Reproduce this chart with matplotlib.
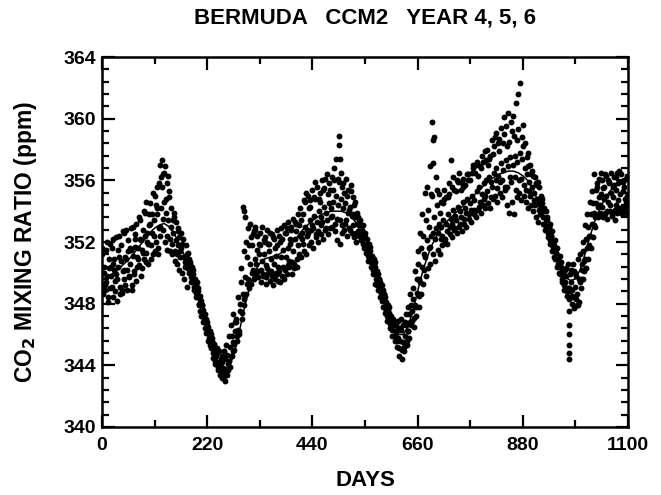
import numpy as np
import matplotlib
matplotlib.use("Agg")
import matplotlib.pyplot as plt
from matplotlib.ticker import MultipleLocator, AutoMinorLocator

plt.rcParams["font.family"] = ["Liberation Sans", "DejaVu Sans"]
plt.rcParams["font.weight"] = "bold"

# smooth fit, every 10 days from day 0 to 1100
fit_days = np.arange(0, 1101, 10)
fit_ppm = [
    349.6, 349.7, 349.9, 350.1, 350.4, 350.7, 351.0, 351.4, 351.8, 352.2,
    352.6, 352.9, 353.1, 353.2, 353.0, 352.6, 352.0, 351.3, 350.5, 349.5,
    348.4, 347.3, 346.2, 345.2, 344.4, 343.9, 343.8, 344.2, 345.2, 346.6,
    348.0, 349.2, 350.1, 350.6, 350.9, 351.0, 351.1, 351.2, 351.4, 351.7,
    352.0, 352.4, 352.8, 353.1, 353.4, 353.6, 353.8, 353.9, 354.0, 354.0,
    354.0, 353.9, 353.7, 353.3, 352.7, 351.9, 351.0, 350.0, 349.0, 348.0,
    347.1, 346.4, 346.0, 346.0, 346.5, 347.5, 348.8, 350.0, 351.0, 351.8,
    352.4, 352.9, 353.3, 353.6, 353.9, 354.2, 354.5, 354.8, 355.1, 355.4,
    355.7, 356.0, 356.2, 356.4, 356.5, 356.6, 356.6, 356.5, 356.3, 356.0,
    355.5, 354.8, 354.0, 353.0, 352.0, 351.0, 350.2, 349.7, 349.5, 349.6,
    350.2, 351.2, 352.3, 353.3, 354.1, 354.7, 355.2, 355.6, 355.9, 356.1,
    356.2,
]

# model samples, five per 5-day step (days 0..1095)
obs_days = np.arange(0, 1100, 5)
obs_a = [
    351.2, 350.4, 352.0, 350.9, 351.6, 350.2, 352.3, 351.0, 351.8, 352.6,
    350.9, 352.1, 351.5, 353.0, 352.2, 351.6, 353.4, 352.8, 353.9, 352.6,
    354.5, 353.8, 355.0, 354.2, 355.8,
    357.3, 356.5, 355.8, 354.9, 354.2, 353.6, 353.3, 352.9, 352.6, 352.2, 351.8,
    351.3, 350.6, 350.2, 349.6, 349.0, 348.5, 347.9, 347.3, 346.8, 346.2,
    345.8, 345.4, 345.1, 344.9,
    344.6, 344.9, 345.3, 345.9, 346.6, 347.3,
    347.0, 348.4, 350.3, 354.3, 353.6, 352.9, 353.2, 352.5, 352.8, 352.4,
    352.6, 353.0, 352.3, 352.8, 351.9, 352.5, 352.2, 351.8, 352.4, 352.9,
    353.1, 352.6, 353.3, 352.8, 353.5, 353.2, 353.8,
    354.2, 353.8, 354.6, 355.0, 354.3, 355.4, 354.8, 355.6, 355.2, 356.0,
    355.5, 356.4, 355.8, 356.2, 356.8, 357.4, 358.9, 356.5, 355.8, 356.1,
    355.4, 355.7, 354.9, 354.6,
    353.6, 353.4, 353.1, 352.6, 352.2, 351.7, 351.1, 350.7, 350.1, 349.6,
    349.2, 348.6, 348.1, 347.8, 347.2, 346.9, 346.6,
    346.9, 347.0, 346.6, 347.3, 347.8, 348.6,
    349.0, 350.1, 351.4, 352.6, 353.8, 355.2, 355.6, 356.9, 359.8, 358.8, 355.4,
    355.1, 354.6, 355.4, 354.9, 355.8, 357.3, 356.2, 355.3, 355.9, 355.4,
    356.1, 355.7, 356.4, 356.0, 356.8, 356.5, 357.2, 356.9, 357.6, 357.9,
    358.0, 357.4, 358.6, 358.2, 359.1, 358.7, 359.4, 360.1, 359.5, 360.4,
    359.8, 360.2, 361.0, 361.6, 362.3, 359.6, 358.4, 357.8,
    357.0, 356.6, 356.2, 355.7, 355.6, 354.8, 354.2, 353.6, 353.0, 352.4,
    351.8, 351.3, 350.8, 350.4, 350.0, 350.3, 350.6,
    350.2, 350.6, 350.0, 350.9,
    351.2, 352.0, 353.1, 353.8, 354.6, 355.3, 356.4, 355.8, 356.1,
    356.0, 355.6, 356.3, 355.9, 356.5, 355.7, 356.2, 355.8, 356.4, 355.9, 356.1,
]
obs_b = [
    348.6, 349.2, 348.1, 349.0, 348.4, 349.5, 348.2, 349.1, 348.7, 349.6,
    348.9, 349.8, 349.2, 350.1, 349.5, 350.5, 349.8, 350.9, 351.3, 350.6,
    351.8, 351.2, 352.0, 351.6, 352.4,
    352.8, 352.0, 351.5, 351.4, 351.2, 350.8, 350.6, 350.2, 350.0, 349.6, 349.1,
    350.0, 349.4, 348.9, 348.4, 347.9, 347.2, 346.8, 346.1, 345.6, 345.1,
    344.5, 344.1, 343.7, 343.4,
    343.2, 343.0, 343.4, 343.9, 344.6, 345.4,
    345.6, 346.2, 347.0, 347.9, 348.6, 349.0, 349.3, 349.6, 349.9, 350.1,
    349.4, 349.8, 349.3, 350.0, 349.5, 349.2, 349.6, 349.9, 349.4, 349.8,
    350.2, 349.9, 350.4, 350.7, 350.3, 350.9, 351.2,
    351.0, 351.4, 351.2, 351.8, 352.0, 351.6, 352.3, 352.0, 352.5, 352.2,
    352.8, 352.5, 352.9, 353.0, 352.7, 352.1, 351.9, 352.6, 352.8, 352.4,
    352.9, 352.6, 352.3, 352.0,
    352.4, 352.1, 351.6, 351.3, 350.8, 350.4, 349.9, 349.3, 348.9, 348.4,
    347.8, 347.4, 346.9, 346.4, 345.9, 345.6, 345.2,
    344.6, 344.4, 344.9, 345.3, 345.8, 346.6,
    346.5, 347.2, 347.8, 348.6, 349.3, 349.8, 350.3, 350.6, 351.2, 350.8, 351.5,
    351.2, 351.8, 352.2, 351.9, 352.5, 352.3, 352.8, 352.6, 353.0, 352.7,
    353.2, 353.0, 353.5, 353.3, 353.8, 353.6, 354.1, 353.9, 354.4, 354.2,
    354.5, 354.2, 354.8, 355.0, 354.6, 355.2, 354.9, 355.4, 354.4, 353.9,
    354.6, 353.8, 354.9, 355.2, 354.7, 355.0, 354.6, 354.2,
    354.4, 354.0, 353.6, 353.3, 354.4, 353.2, 352.8, 352.3, 351.9, 351.4,
    350.9, 350.4, 349.9, 349.4, 348.9, 348.5, 348.3,
    348.0, 347.7, 348.3, 348.1,
    349.0, 349.6, 350.3, 350.9, 351.6, 352.3, 353.0, 353.6, 353.9,
    353.6, 353.9, 353.5, 354.0, 353.7, 353.4, 353.9, 354.2, 353.8, 354.1, 353.9,
]
obs_c = [
    350.0, 349.4, 350.3, 349.8, 350.6, 349.9, 350.4, 350.8, 350.1, 351.0,
    351.4, 350.6, 351.1, 351.7, 351.0, 352.2, 351.5, 352.4, 352.0, 353.1,
    352.6, 353.4, 353.8, 352.9, 354.2,
    354.6, 353.9, 353.4, 353.0, 352.6, 352.1, 351.8, 351.4, 351.0, 350.7, 350.3,
    350.7, 350.2, 349.4, 349.1, 348.3, 347.9, 347.1, 346.6, 346.0, 345.5,
    345.0, 344.6, 344.2, 343.9,
    343.8, 343.6, 344.1, 344.6, 345.5, 346.2,
    346.3, 347.5, 348.6, 349.7, 351.0, 350.6, 351.8, 350.9, 351.5, 351.2,
    350.8, 351.2, 350.5, 351.4, 350.9, 350.6, 351.1, 350.4, 351.0, 351.5,
    351.0, 351.6, 351.9, 351.4, 352.2, 351.8, 352.4,
    352.6, 353.0, 352.8, 353.4, 353.1, 353.7, 353.3, 354.0, 353.6, 354.3,
    353.9, 354.5, 354.2, 354.6, 355.0, 354.4, 354.8, 354.2, 354.5, 353.9,
    354.3, 353.8, 353.6, 353.2,
    353.1, 352.8, 352.3, 351.9, 351.6, 351.0, 350.6, 349.9, 349.6, 349.0,
    348.6, 347.9, 347.6, 347.0, 346.6, 346.1, 345.8,
    345.6, 345.5, 345.9, 346.2, 346.8, 347.5,
    347.9, 348.7, 349.6, 350.4, 351.2, 352.1, 353.0, 352.4, 353.6, 352.9, 353.2,
    353.0, 353.4, 353.2, 353.8, 353.5, 354.1, 353.7, 354.3, 354.0, 354.6,
    354.2, 354.8, 354.5, 355.0, 354.7, 355.3, 355.6, 355.1, 355.8, 356.0,
    356.2, 355.9, 356.5, 356.8, 356.3, 357.1, 356.7, 357.3, 356.9, 357.5,
    357.0, 357.6, 357.2, 357.8, 357.4, 356.8, 356.4, 355.9,
    355.6, 355.2, 354.8, 354.5, 355.0, 354.0, 353.5, 353.0, 352.4, 351.9,
    351.3, 350.9, 350.3, 349.9, 349.4, 349.0, 348.8,
    348.9, 349.1, 348.6, 349.4,
    350.2, 350.8, 351.6, 352.4, 353.2, 353.9, 354.5, 354.9, 355.1,
    354.8, 355.0, 354.6, 355.2, 354.9, 355.4, 354.7, 355.1, 355.3, 354.8, 355.0,
]
obs_d = [
    351.6, 348.9, 349.8, 351.9, 349.1, 350.9, 349.6, 352.4, 348.9, 350.2,
    352.8, 349.7, 352.9, 349.9, 353.2, 350.9, 352.1, 351.3, 354.6, 351.9,
    353.2, 355.2, 351.4, 355.6, 353.0,
    355.6, 356.9, 352.4, 355.3, 351.9, 353.9, 351.2, 352.3, 351.6, 351.0, 350.5,
    350.9, 349.7, 349.9, 348.7, 348.8, 347.5, 347.6, 346.4, 346.5, 345.3,
    345.6, 344.3, 344.8, 343.7,
    344.2, 343.3, 344.7, 344.3, 345.9, 345.0,
    346.8, 346.0, 349.4, 348.3, 352.0, 349.6, 352.3, 350.2, 353.0, 349.7,
    351.8, 349.9, 352.0, 350.3, 352.6, 349.8, 351.6, 352.8, 350.1, 352.2,
    349.6, 352.9, 350.8, 353.0, 350.6, 352.7, 351.0,
    353.4, 351.9, 355.2, 352.6, 354.7, 352.9, 355.9, 352.7, 354.6, 353.3,
    356.1, 353.4, 355.4, 353.7, 356.0, 353.5, 355.9, 353.1, 355.2, 353.4,
    354.1, 355.3, 353.1, 352.6,
    352.7, 353.1, 351.9, 352.3, 351.1, 351.4, 350.2, 350.4, 349.2, 349.4,
    348.2, 348.4, 347.2, 347.4, 346.3, 346.8, 345.6,
    345.1, 346.3, 345.2, 346.6, 346.2, 347.9,
    348.3, 347.8, 350.6, 349.4, 352.4, 351.0, 354.1, 351.7, 355.0, 352.2, 354.4,
    353.9, 352.4, 354.8, 352.7, 355.1, 353.2, 355.4, 353.4, 356.5, 353.6,
    355.6, 353.9, 356.0, 354.1, 357.0, 354.0, 356.3, 354.6, 357.2, 355.0,
    355.3, 357.6, 355.6, 358.8, 355.5, 357.9, 356.0, 359.0, 355.6, 358.5,
    355.9, 358.9, 355.4, 359.3, 356.1, 358.2, 355.4, 356.9,
    355.0, 356.3, 354.4, 355.9, 353.8, 354.5, 353.1, 353.4, 352.1, 352.7,
    351.0, 351.6, 350.0, 350.7, 349.2, 349.8, 349.0,
    349.4, 348.4, 349.8, 347.9,
    349.6, 351.4, 350.9, 353.0, 352.4, 354.5, 353.6, 355.6, 354.4,
    354.3, 356.4, 354.0, 355.8, 353.8, 356.2, 354.4, 356.6, 354.2, 355.6, 354.5,
]
obs_e = [
    349.3, 351.5, 348.4, 350.4, 352.2, 348.8, 351.5, 348.6, 352.7, 349.2,
    350.2, 351.6, 348.9, 352.5, 350.4, 353.6, 350.3, 354.0, 350.7, 353.8,
    350.9, 352.4, 354.4, 351.2, 356.2,
    353.5, 354.8, 356.3, 352.2, 353.4, 351.4, 352.7, 351.0, 351.9, 350.4, 351.2,
    350.2, 350.4, 349.1, 349.4, 348.0, 348.2, 346.9, 347.0, 345.8, 346.0,
    344.8, 345.1, 343.9, 344.4,
    343.5, 344.4, 343.7, 345.2, 344.9, 346.8,
    345.9, 348.0, 347.4, 351.4, 349.3, 351.8, 350.0, 352.7, 350.6, 351.9,
    350.2, 352.1, 349.7, 351.9, 350.1, 352.3, 350.0, 349.5, 352.0, 350.4,
    352.6, 350.5, 352.2, 349.9, 353.3, 350.4, 353.1,
    352.2, 354.7, 352.4, 354.2, 352.8, 354.9, 352.5, 354.8, 353.1, 355.4,
    352.9, 355.1, 353.6, 355.4, 353.2, 356.1, 353.4, 355.6, 353.2, 355.0,
    352.8, 353.7, 354.4, 353.9,
    353.4, 352.4, 352.6, 351.6, 351.9, 350.7, 350.9, 349.6, 349.9, 348.7,
    348.9, 347.6, 347.9, 346.7, 347.0, 345.9, 346.3,
    346.4, 345.0, 346.8, 345.6, 347.3, 346.9,
    347.1, 349.6, 348.5, 351.6, 350.2, 353.4, 351.6, 355.1, 352.6, 356.2, 352.6,
    352.2, 354.5, 352.0, 354.9, 353.0, 355.6, 352.9, 356.0, 353.2, 355.8,
    353.5, 356.4, 353.8, 356.5, 354.1, 357.0, 354.3, 356.8, 354.8, 357.3,
    357.0, 354.9, 357.7, 356.0, 358.4, 355.9, 358.4, 355.6, 358.2, 356.2,
    359.2, 356.2, 358.6, 356.0, 358.8, 355.7, 357.5, 355.3,
    356.4, 354.7, 355.8, 354.1, 354.9, 353.6, 354.0, 352.6, 353.2, 351.7,
    352.1, 350.6, 351.1, 349.6, 350.2, 348.8, 349.9,
    348.5, 350.1, 347.9, 349.6,
    350.6, 350.1, 352.2, 351.8, 353.8, 353.1, 355.4, 354.3, 356.5,
    355.5, 353.8, 356.0, 354.4, 355.6, 354.1, 356.5, 354.0, 355.9, 354.3, 356.3,
]

# isolated points away from the main band
extra_days = [122, 127, 298, 496, 497, 692, 693, 977, 977, 977, 977, 977, 977]
extra_ppm = [357.0, 356.4, 354.0, 358.3, 357.4, 358.6, 357.1,
             347.5, 346.6, 346.0, 345.3, 344.8, 344.4]

fig = plt.figure(figsize=(6.61, 4.95), dpi=100)
ax = fig.add_axes([0.1543, 0.1374, 0.7957, 0.7474])

dot = dict(color="black", s=18, linewidths=0, marker="o")
ax.scatter(obs_days, obs_a, **dot)
ax.scatter(obs_days + 1.0, obs_d, **dot)
ax.scatter(obs_days + 2.0, obs_b, **dot)
ax.scatter(obs_days + 3.0, obs_e, **dot)
ax.scatter(obs_days + 4.0, obs_c, **dot)
ax.scatter(extra_days, extra_ppm, **dot)
ax.plot(fit_days, fit_ppm, color="black", lw=1.1)

ax.set_xlim(0, 1100)
ax.set_ylim(340, 364)
ax.xaxis.set_major_locator(MultipleLocator(220))
ax.xaxis.set_minor_locator(AutoMinorLocator(2))
ax.yaxis.set_major_locator(MultipleLocator(4))
ax.yaxis.set_minor_locator(AutoMinorLocator(5))
ax.tick_params(which="both", direction="in", top=True, right=True,
               width=1.6, labelsize=14)
ax.tick_params(axis="x", pad=7)
ax.tick_params(axis="y", pad=4)
ax.tick_params(which="major", length=9)
ax.tick_params(which="minor", length=5)
for sp in ax.spines.values():
    sp.set_linewidth(1.8)

ax.set_xlabel("DAYS", fontsize=16, fontweight="bold", labelpad=12)
ax.set_ylabel("CO$_\\mathbf{2}$ MIXING RATIO (ppm)", fontsize=16.5,
              fontweight="bold", labelpad=18)
ax.set_title("BERMUDA   CCM2   YEAR 4, 5, 6", fontsize=16, fontweight="bold", pad=24)

plt.savefig("out.png", dpi=100)
